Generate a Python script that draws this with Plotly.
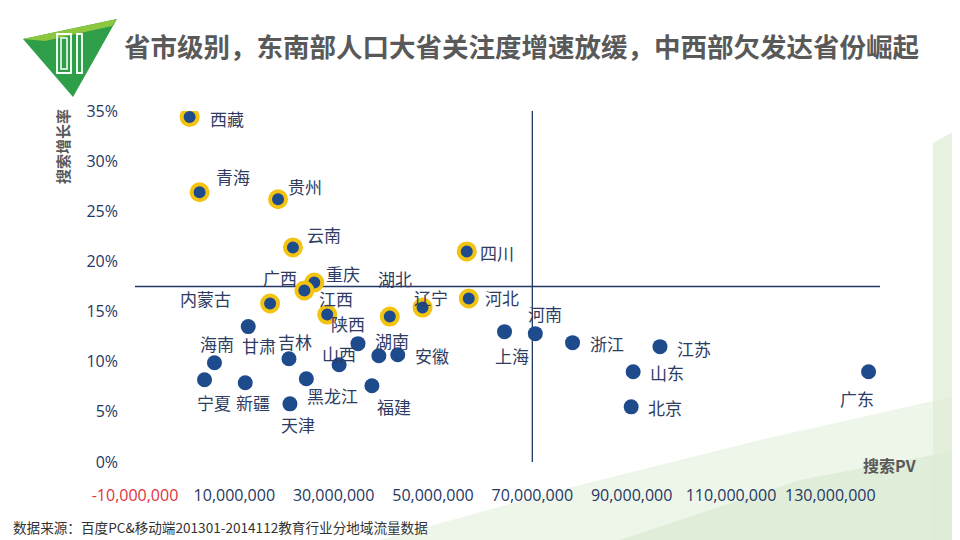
"""省市级别搜索PV与搜索增长率散点图"""
import plotly.graph_objects as go

# ---- data ----
provinces = ["西藏", "青海", "贵州", "云南", "四川", "重庆", "广西", "内蒙古",
             "江西", "湖北", "辽宁", "河北", "甘肃", "海南", "宁夏", "新疆",
             "吉林", "天津", "黑龙江", "山西", "陕西", "湖南", "安徽", "福建",
             "上海", "河南", "浙江", "江苏", "山东", "北京", "广东"]
search_pv = [1000000, 3000000, 18800000, 21800000, 56800000, 26100000,
             24100000, 17200000, 28700000, 41300000, 47900000, 57200000,
             12800000, 6000000, 4000000, 12200000, 21000000, 21200000,
             24500000, 31100000, 34900000, 39100000, 42900000, 37700000,
             64400000, 70600000, 78100000, 95700000, 90300000, 89900000,
             137700000]
growth = [0.344, 0.269, 0.262, 0.214, 0.210, 0.179, 0.171, 0.158,
          0.147, 0.145, 0.154, 0.163, 0.135, 0.099, 0.082, 0.079,
          0.103, 0.058, 0.083, 0.097, 0.118, 0.106, 0.107, 0.076,
          0.130, 0.128, 0.119, 0.115, 0.090, 0.055, 0.090]
highlighted = ["西藏", "青海", "贵州", "云南", "四川", "重庆", "广西", "内蒙古",
               "江西", "湖北", "辽宁", "河北"]

x_tickvals = [-10000000, 10000000, 30000000, 50000000, 70000000,
              90000000, 110000000, 130000000]
y_tickvals = [0, 0.05, 0.10, 0.15, 0.20, 0.25, 0.30, 0.35]
x_range = [-10000000, 140000000]
y_range = [0, 0.35]
cross_x = 70000000   # vertical split line
cross_y = 0.175      # horizontal split line

title = "省市级别，东南部人口大省关注度增速放缓，中西部欠发达省份崛起"
source = "数据来源：百度PC&移动端201301-2014112教育行业分地域流量数据"

# label offsets in screen pixels (dx right, dy down)
label_offsets = {
    "西藏": (37, 1), "青海": (33, -16), "贵州": (27, -13), "云南": (31, -13),
    "四川": (30, 1), "重庆": (29, -9), "广西": (-24, -13), "内蒙古": (-65, -5),
    "江西": (9, -16), "湖北": (5, -38), "辽宁": (8, -10), "河北": (33, -1),
    "甘肃": (11, 19), "海南": (3, -19), "宁夏": (9, 23), "新疆": (8, 20),
    "吉林": (6, -17), "天津": (8, 21), "黑龙江": (26, 17), "山西": (0, -11),
    "陕西": (-10, -20), "湖南": (13, -15), "安徽": (34, 1), "福建": (22, 21),
    "上海": (7, 24), "河南": (10, -20), "浙江": (34, 1), "江苏": (34, 2),
    "山东": (34, 1), "北京": (34, 1), "广东": (-12, 27),
}

CJK = "Noto Sans CJK SC"
NUM = "Open Sans, Noto Sans CJK SC"
NAVY = "#1F3864"
DOT = "#1E4B8C"
RING = "#F2C311"

# page body has an 8px margin, so the figure is drawn 8px smaller and
# everything below is given in page pixels
OFF = 8
FW, FH = 960 - OFF, 540 - OFF
# plot area in page pixels
PL, PT, PR, PB = 135, 111, 880, 462
W, H = PR - PL, PB - PT


def px_x(px):
    return (px - PL) / W


def px_y(py):
    return (PB - py) / H


def path(points):
    return "M " + " L ".join(f"{px_x(a):.4f},{px_y(b):.4f}" for a, b in points) + " Z"


fig = go.Figure()

plain = [i for i, p in enumerate(provinces) if p not in highlighted]
hot = [i for i, p in enumerate(provinces) if p in highlighted]

fig.add_trace(go.Scatter(
    x=[search_pv[i] for i in plain], y=[growth[i] for i in plain],
    mode="markers", marker=dict(size=15, color=DOT, line=dict(width=0)),
    text=[provinces[i] for i in plain], hoverinfo="text", showlegend=False))
fig.add_trace(go.Scatter(
    x=[search_pv[i] for i in hot], y=[growth[i] for i in hot],
    mode="markers", marker=dict(size=16, color=DOT, line=dict(width=4, color=RING)),
    text=[provinces[i] for i in hot], hoverinfo="text", showlegend=False))

annotations = []
for p, xv, yv in zip(provinces, search_pv, growth):
    dx, dy = label_offsets[p]
    annotations.append(dict(x=xv, y=yv, xref="x", yref="y", text=p, showarrow=False,
                            xshift=dx, yshift=-dy, xanchor="center", yanchor="middle",
                            font=dict(family=CJK, size=17, color="#2E3C63")))

annotations += [
    dict(x=px_x(122), y=px_y(45), xref="paper", yref="paper", text=title,
         showarrow=False, xanchor="left", yanchor="middle",
         font=dict(family=CJK, size=26.5, color="#595959", weight="bold")),
    dict(x=px_x(62), y=px_y(147), xref="paper", yref="paper", text="搜索增长率",
         showarrow=False, textangle=-90, xanchor="center", yanchor="middle",
         font=dict(family=CJK, size=15, color="#595959", weight="bold")),
    dict(x=px_x(889), y=px_y(465), xref="paper", yref="paper", text="搜索PV",
         showarrow=False, xanchor="center", yanchor="middle",
         font=dict(family=CJK, size=16, color="#595959", weight="bold")),
    dict(x=px_x(11), y=px_y(527), xref="paper", yref="paper", text=source,
         showarrow=False, xanchor="left", yanchor="middle",
         font=dict(family=CJK, size=13.6, color="#333333")),
]

shapes = [
    # soft green background waves
    dict(type="path", xref="paper", yref="paper", layer="below", line=dict(width=0),
         fillcolor="rgba(206,228,196,0.35)",
         path=path([(380, 540), (560, 490), (760, 440), (960, 395), (960, 540)])),
    dict(type="path", xref="paper", yref="paper", layer="below", line=dict(width=0),
         fillcolor="rgba(196,222,186,0.35)",
         path=path([(620, 540), (800, 480), (960, 450), (960, 540)])),
    dict(type="path", xref="paper", yref="paper", layer="below", line=dict(width=0),
         fillcolor="rgba(222,237,212,0.7)",
         path=path([(933, 143), (960, 128), (960, 540), (933, 540)])),
    # logo
    dict(type="path", xref="paper", yref="paper", line=dict(width=0),
         fillcolor="#2E9E48", path=path([(23, 39), (117, 19), (73, 97)])),
    dict(type="path", xref="paper", yref="paper", line=dict(width=0),
         fillcolor="#8DC63F", path=path([(23, 39), (117, 19), (112, 26), (45, 41)])),
    dict(type="rect", xref="paper", yref="paper", line=dict(color="white", width=1.8),
         x0=px_x(57), x1=px_x(71), y0=px_y(73), y1=px_y(34)),
    dict(type="rect", xref="paper", yref="paper", line=dict(color="white", width=1.5),
         x0=px_x(61), x1=px_x(67), y0=px_y(69), y1=px_y(38)),
    dict(type="rect", xref="paper", yref="paper", line=dict(color="white", width=1.8),
         x0=px_x(77), x1=px_x(82), y0=px_y(73), y1=px_y(34)),
    # quadrant lines
    dict(type="line", xref="x", yref="y", layer="below", x0=x_range[0], x1=x_range[1],
         y0=cross_y, y1=cross_y, line=dict(color=NAVY, width=1.3)),
    dict(type="line", xref="x", yref="y", layer="below", x0=cross_x, x1=cross_x,
         y0=y_range[0], y1=y_range[1], line=dict(color=NAVY, width=1.3)),
]

x_ticktext = [f"{v:,}" for v in x_tickvals]
x_ticktext = [f"<span style='color:#E0343C'>{t}</span>" if v < 0 else t
              for v, t in zip(x_tickvals, x_ticktext)]
y_ticktext = [f"{round(v * 100)}%" for v in y_tickvals]

fig.update_layout(
    width=FW, height=FH,
    margin=dict(l=PL - OFF, r=960 - PR, t=PT - OFF, b=540 - PB),
    paper_bgcolor="white", plot_bgcolor="rgba(0,0,0,0)",
    showlegend=False,
    annotations=annotations, shapes=shapes,
    xaxis=dict(range=x_range, tickvals=x_tickvals, ticktext=x_ticktext,
               showgrid=False, zeroline=False, showline=False, ticks="",
               ticklabelstandoff=22, automargin=False,
               tickfont=dict(family=NUM, size=16, color=NAVY)),
    yaxis=dict(range=y_range, tickvals=y_tickvals, ticktext=y_ticktext,
               showgrid=False, zeroline=False, showline=False, ticks="",
               ticklabelstandoff=16, automargin=False,
               tickfont=dict(family=NUM, size=16, color=NAVY)),
)

fig.write_html("out.html")
